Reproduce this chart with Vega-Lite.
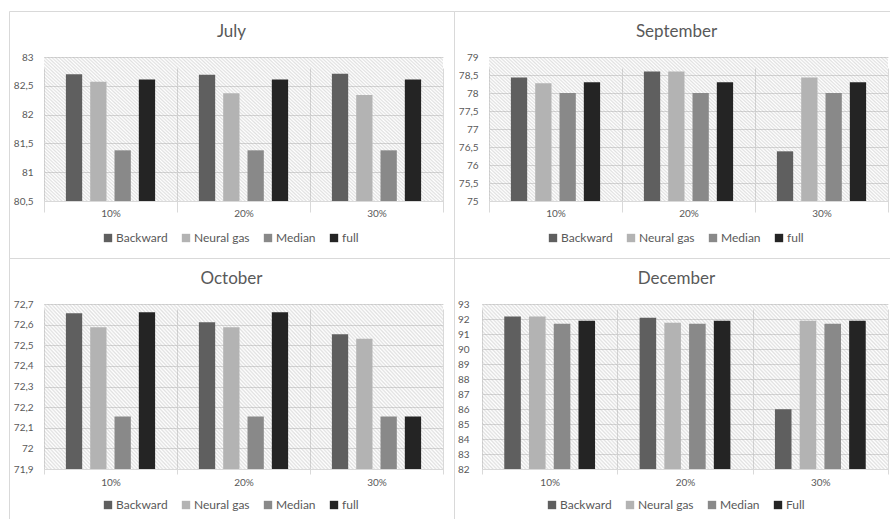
{
  "$schema": "https://vega.github.io/schema/vega-lite/v6.json",
  "background": "white",
  "padding": {"left": 8, "top": 10, "right": 0, "bottom": 0},
  "config": {
    "view": {"stroke": "#d9d9d9", "strokeWidth": 1},
    "font": "Lato",
    "axis": {"labelFont": "Lato", "labelFontSize": 10, "labelColor": "#595959", "gridColor": "#d9d9d9", "gridWidth": 1, "domain": false, "ticks": false, "labelOverlap": false},
    "title": {"font": "Lato", "fontSize": 17, "fontWeight": "normal", "color": "#595959"},
    "legend": {"symbolType": "square", "symbolSize": 70, "symbolStrokeWidth": 0, "labelFont": "Lato", "labelFontSize": 12, "labelColor": "#595959", "columnPadding": 12, "labelOffset": 2, "padding": 0},
    "mark": {
      "color": {
        "gradient": "linear", "x1": 0, "y1": 1, "x2": 0.921, "y2": -0.068,
        "stops": [
          {"offset": 0, "color": "rgba(160,160,160,0.32)"}, {"offset": 0.00625, "color": "rgba(160,160,160,0)"},
          {"offset": 0.0125, "color": "rgba(160,160,160,0.32)"}, {"offset": 0.01875, "color": "rgba(160,160,160,0)"},
          {"offset": 0.025, "color": "rgba(160,160,160,0.32)"}, {"offset": 0.03125, "color": "rgba(160,160,160,0)"},
          {"offset": 0.0375, "color": "rgba(160,160,160,0.32)"}, {"offset": 0.04375, "color": "rgba(160,160,160,0)"},
          {"offset": 0.05, "color": "rgba(160,160,160,0.32)"}, {"offset": 0.05625, "color": "rgba(160,160,160,0)"},
          {"offset": 0.0625, "color": "rgba(160,160,160,0.32)"}, {"offset": 0.06875, "color": "rgba(160,160,160,0)"},
          {"offset": 0.075, "color": "rgba(160,160,160,0.32)"}, {"offset": 0.08125, "color": "rgba(160,160,160,0)"},
          {"offset": 0.0875, "color": "rgba(160,160,160,0.32)"}, {"offset": 0.09375, "color": "rgba(160,160,160,0)"},
          {"offset": 0.1, "color": "rgba(160,160,160,0.32)"}, {"offset": 0.10625, "color": "rgba(160,160,160,0)"},
          {"offset": 0.1125, "color": "rgba(160,160,160,0.32)"}, {"offset": 0.11875, "color": "rgba(160,160,160,0)"},
          {"offset": 0.125, "color": "rgba(160,160,160,0.32)"}, {"offset": 0.13125, "color": "rgba(160,160,160,0)"},
          {"offset": 0.1375, "color": "rgba(160,160,160,0.32)"}, {"offset": 0.14375, "color": "rgba(160,160,160,0)"},
          {"offset": 0.15, "color": "rgba(160,160,160,0.32)"}, {"offset": 0.15625, "color": "rgba(160,160,160,0)"},
          {"offset": 0.1625, "color": "rgba(160,160,160,0.32)"}, {"offset": 0.16875, "color": "rgba(160,160,160,0)"},
          {"offset": 0.175, "color": "rgba(160,160,160,0.32)"}, {"offset": 0.18125, "color": "rgba(160,160,160,0)"},
          {"offset": 0.1875, "color": "rgba(160,160,160,0.32)"}, {"offset": 0.19375, "color": "rgba(160,160,160,0)"},
          {"offset": 0.2, "color": "rgba(160,160,160,0.32)"}, {"offset": 0.20625, "color": "rgba(160,160,160,0)"},
          {"offset": 0.2125, "color": "rgba(160,160,160,0.32)"}, {"offset": 0.21875, "color": "rgba(160,160,160,0)"},
          {"offset": 0.225, "color": "rgba(160,160,160,0.32)"}, {"offset": 0.23125, "color": "rgba(160,160,160,0)"},
          {"offset": 0.2375, "color": "rgba(160,160,160,0.32)"}, {"offset": 0.24375, "color": "rgba(160,160,160,0)"},
          {"offset": 0.25, "color": "rgba(160,160,160,0.32)"}, {"offset": 0.25625, "color": "rgba(160,160,160,0)"},
          {"offset": 0.2625, "color": "rgba(160,160,160,0.32)"}, {"offset": 0.26875, "color": "rgba(160,160,160,0)"},
          {"offset": 0.275, "color": "rgba(160,160,160,0.32)"}, {"offset": 0.28125, "color": "rgba(160,160,160,0)"},
          {"offset": 0.2875, "color": "rgba(160,160,160,0.32)"}, {"offset": 0.29375, "color": "rgba(160,160,160,0)"},
          {"offset": 0.3, "color": "rgba(160,160,160,0.32)"}, {"offset": 0.30625, "color": "rgba(160,160,160,0)"},
          {"offset": 0.3125, "color": "rgba(160,160,160,0.32)"}, {"offset": 0.31875, "color": "rgba(160,160,160,0)"},
          {"offset": 0.325, "color": "rgba(160,160,160,0.32)"}, {"offset": 0.33125, "color": "rgba(160,160,160,0)"},
          {"offset": 0.3375, "color": "rgba(160,160,160,0.32)"}, {"offset": 0.34375, "color": "rgba(160,160,160,0)"},
          {"offset": 0.35, "color": "rgba(160,160,160,0.32)"}, {"offset": 0.35625, "color": "rgba(160,160,160,0)"},
          {"offset": 0.3625, "color": "rgba(160,160,160,0.32)"}, {"offset": 0.36875, "color": "rgba(160,160,160,0)"},
          {"offset": 0.375, "color": "rgba(160,160,160,0.32)"}, {"offset": 0.38125, "color": "rgba(160,160,160,0)"},
          {"offset": 0.3875, "color": "rgba(160,160,160,0.32)"}, {"offset": 0.39375, "color": "rgba(160,160,160,0)"},
          {"offset": 0.4, "color": "rgba(160,160,160,0.32)"}, {"offset": 0.40625, "color": "rgba(160,160,160,0)"},
          {"offset": 0.4125, "color": "rgba(160,160,160,0.32)"}, {"offset": 0.41875, "color": "rgba(160,160,160,0)"},
          {"offset": 0.425, "color": "rgba(160,160,160,0.32)"}, {"offset": 0.43125, "color": "rgba(160,160,160,0)"},
          {"offset": 0.4375, "color": "rgba(160,160,160,0.32)"}, {"offset": 0.44375, "color": "rgba(160,160,160,0)"},
          {"offset": 0.45, "color": "rgba(160,160,160,0.32)"}, {"offset": 0.45625, "color": "rgba(160,160,160,0)"},
          {"offset": 0.4625, "color": "rgba(160,160,160,0.32)"}, {"offset": 0.46875, "color": "rgba(160,160,160,0)"},
          {"offset": 0.475, "color": "rgba(160,160,160,0.32)"}, {"offset": 0.48125, "color": "rgba(160,160,160,0)"},
          {"offset": 0.4875, "color": "rgba(160,160,160,0.32)"}, {"offset": 0.49375, "color": "rgba(160,160,160,0)"},
          {"offset": 0.5, "color": "rgba(160,160,160,0.32)"}, {"offset": 0.50625, "color": "rgba(160,160,160,0)"},
          {"offset": 0.5125, "color": "rgba(160,160,160,0.32)"}, {"offset": 0.51875, "color": "rgba(160,160,160,0)"},
          {"offset": 0.525, "color": "rgba(160,160,160,0.32)"}, {"offset": 0.53125, "color": "rgba(160,160,160,0)"},
          {"offset": 0.5375, "color": "rgba(160,160,160,0.32)"}, {"offset": 0.54375, "color": "rgba(160,160,160,0)"},
          {"offset": 0.55, "color": "rgba(160,160,160,0.32)"}, {"offset": 0.55625, "color": "rgba(160,160,160,0)"},
          {"offset": 0.5625, "color": "rgba(160,160,160,0.32)"}, {"offset": 0.56875, "color": "rgba(160,160,160,0)"},
          {"offset": 0.575, "color": "rgba(160,160,160,0.32)"}, {"offset": 0.58125, "color": "rgba(160,160,160,0)"},
          {"offset": 0.5875, "color": "rgba(160,160,160,0.32)"}, {"offset": 0.59375, "color": "rgba(160,160,160,0)"},
          {"offset": 0.6, "color": "rgba(160,160,160,0.32)"}, {"offset": 0.60625, "color": "rgba(160,160,160,0)"},
          {"offset": 0.6125, "color": "rgba(160,160,160,0.32)"}, {"offset": 0.61875, "color": "rgba(160,160,160,0)"},
          {"offset": 0.625, "color": "rgba(160,160,160,0.32)"}, {"offset": 0.63125, "color": "rgba(160,160,160,0)"},
          {"offset": 0.6375, "color": "rgba(160,160,160,0.32)"}, {"offset": 0.64375, "color": "rgba(160,160,160,0)"},
          {"offset": 0.65, "color": "rgba(160,160,160,0.32)"}, {"offset": 0.65625, "color": "rgba(160,160,160,0)"},
          {"offset": 0.6625, "color": "rgba(160,160,160,0.32)"}, {"offset": 0.66875, "color": "rgba(160,160,160,0)"},
          {"offset": 0.675, "color": "rgba(160,160,160,0.32)"}, {"offset": 0.68125, "color": "rgba(160,160,160,0)"},
          {"offset": 0.6875, "color": "rgba(160,160,160,0.32)"}, {"offset": 0.69375, "color": "rgba(160,160,160,0)"},
          {"offset": 0.7, "color": "rgba(160,160,160,0.32)"}, {"offset": 0.70625, "color": "rgba(160,160,160,0)"},
          {"offset": 0.7125, "color": "rgba(160,160,160,0.32)"}, {"offset": 0.71875, "color": "rgba(160,160,160,0)"},
          {"offset": 0.725, "color": "rgba(160,160,160,0.32)"}, {"offset": 0.73125, "color": "rgba(160,160,160,0)"},
          {"offset": 0.7375, "color": "rgba(160,160,160,0.32)"}, {"offset": 0.74375, "color": "rgba(160,160,160,0)"},
          {"offset": 0.75, "color": "rgba(160,160,160,0.32)"}, {"offset": 0.75625, "color": "rgba(160,160,160,0)"},
          {"offset": 0.7625, "color": "rgba(160,160,160,0.32)"}, {"offset": 0.76875, "color": "rgba(160,160,160,0)"},
          {"offset": 0.775, "color": "rgba(160,160,160,0.32)"}, {"offset": 0.78125, "color": "rgba(160,160,160,0)"},
          {"offset": 0.7875, "color": "rgba(160,160,160,0.32)"}, {"offset": 0.79375, "color": "rgba(160,160,160,0)"},
          {"offset": 0.8, "color": "rgba(160,160,160,0.32)"}, {"offset": 0.80625, "color": "rgba(160,160,160,0)"},
          {"offset": 0.8125, "color": "rgba(160,160,160,0.32)"}, {"offset": 0.81875, "color": "rgba(160,160,160,0)"},
          {"offset": 0.825, "color": "rgba(160,160,160,0.32)"}, {"offset": 0.83125, "color": "rgba(160,160,160,0)"},
          {"offset": 0.8375, "color": "rgba(160,160,160,0.32)"}, {"offset": 0.84375, "color": "rgba(160,160,160,0)"},
          {"offset": 0.85, "color": "rgba(160,160,160,0.32)"}, {"offset": 0.85625, "color": "rgba(160,160,160,0)"},
          {"offset": 0.8625, "color": "rgba(160,160,160,0.32)"}, {"offset": 0.86875, "color": "rgba(160,160,160,0)"},
          {"offset": 0.875, "color": "rgba(160,160,160,0.32)"}, {"offset": 0.88125, "color": "rgba(160,160,160,0)"},
          {"offset": 0.8875, "color": "rgba(160,160,160,0.32)"}, {"offset": 0.89375, "color": "rgba(160,160,160,0)"},
          {"offset": 0.9, "color": "rgba(160,160,160,0.32)"}, {"offset": 0.90625, "color": "rgba(160,160,160,0)"},
          {"offset": 0.9125, "color": "rgba(160,160,160,0.32)"}, {"offset": 0.91875, "color": "rgba(160,160,160,0)"},
          {"offset": 0.925, "color": "rgba(160,160,160,0.32)"}, {"offset": 0.93125, "color": "rgba(160,160,160,0)"},
          {"offset": 0.9375, "color": "rgba(160,160,160,0.32)"}, {"offset": 0.94375, "color": "rgba(160,160,160,0)"},
          {"offset": 0.95, "color": "rgba(160,160,160,0.32)"}, {"offset": 0.95625, "color": "rgba(160,160,160,0)"},
          {"offset": 0.9625, "color": "rgba(160,160,160,0.32)"}, {"offset": 0.96875, "color": "rgba(160,160,160,0)"},
          {"offset": 0.975, "color": "rgba(160,160,160,0.32)"}, {"offset": 0.98125, "color": "rgba(160,160,160,0)"},
          {"offset": 0.9875, "color": "rgba(160,160,160,0.32)"}, {"offset": 0.99375, "color": "rgba(160,160,160,0)"},
          {"offset": 1, "color": "rgba(160,160,160,0.32)"}
        ]
      }
    }
  },
  "data": {
    "values": [
      {"month": "July", "pct": "10%", "method": "Backward", "value": 82.70},
      {"month": "July", "pct": "10%", "method": "Neural gas", "value": 82.57},
      {"month": "July", "pct": "10%", "method": "Median", "value": 81.38},
      {"month": "July", "pct": "10%", "method": "full", "value": 82.61},
      {"month": "July", "pct": "20%", "method": "Backward", "value": 82.69},
      {"month": "July", "pct": "20%", "method": "Neural gas", "value": 82.37},
      {"month": "July", "pct": "20%", "method": "Median", "value": 81.38},
      {"month": "July", "pct": "20%", "method": "full", "value": 82.61},
      {"month": "July", "pct": "30%", "method": "Backward", "value": 82.71},
      {"month": "July", "pct": "30%", "method": "Neural gas", "value": 82.34},
      {"month": "July", "pct": "30%", "method": "Median", "value": 81.38},
      {"month": "July", "pct": "30%", "method": "full", "value": 82.61},
      {"month": "September", "pct": "10%", "method": "Backward", "value": 78.43},
      {"month": "September", "pct": "10%", "method": "Neural gas", "value": 78.27},
      {"month": "September", "pct": "10%", "method": "Median", "value": 78.0},
      {"month": "September", "pct": "10%", "method": "full", "value": 78.30},
      {"month": "September", "pct": "20%", "method": "Backward", "value": 78.6},
      {"month": "September", "pct": "20%", "method": "Neural gas", "value": 78.6},
      {"month": "September", "pct": "20%", "method": "Median", "value": 78.0},
      {"month": "September", "pct": "20%", "method": "full", "value": 78.30},
      {"month": "September", "pct": "30%", "method": "Backward", "value": 76.38},
      {"month": "September", "pct": "30%", "method": "Neural gas", "value": 78.43},
      {"month": "September", "pct": "30%", "method": "Median", "value": 78.0},
      {"month": "September", "pct": "30%", "method": "full", "value": 78.30},
      {"month": "October", "pct": "10%", "method": "Backward", "value": 72.655},
      {"month": "October", "pct": "10%", "method": "Neural gas", "value": 72.587},
      {"month": "October", "pct": "10%", "method": "Median", "value": 72.155},
      {"month": "October", "pct": "10%", "method": "full", "value": 72.66},
      {"month": "October", "pct": "20%", "method": "Backward", "value": 72.611},
      {"month": "October", "pct": "20%", "method": "Neural gas", "value": 72.587},
      {"month": "October", "pct": "20%", "method": "Median", "value": 72.155},
      {"month": "October", "pct": "20%", "method": "full", "value": 72.66},
      {"month": "October", "pct": "30%", "method": "Backward", "value": 72.553},
      {"month": "October", "pct": "30%", "method": "Neural gas", "value": 72.531},
      {"month": "October", "pct": "30%", "method": "Median", "value": 72.155},
      {"month": "October", "pct": "30%", "method": "full", "value": 72.155},
      {"month": "December", "pct": "10%", "method": "Backward", "value": 92.16},
      {"month": "December", "pct": "10%", "method": "Neural gas", "value": 92.16},
      {"month": "December", "pct": "10%", "method": "Median", "value": 91.68},
      {"month": "December", "pct": "10%", "method": "Full", "value": 91.89},
      {"month": "December", "pct": "20%", "method": "Backward", "value": 92.09},
      {"month": "December", "pct": "20%", "method": "Neural gas", "value": 91.75},
      {"month": "December", "pct": "20%", "method": "Median", "value": 91.68},
      {"month": "December", "pct": "20%", "method": "Full", "value": 91.89},
      {"month": "December", "pct": "30%", "method": "Backward", "value": 85.98},
      {"month": "December", "pct": "30%", "method": "Neural gas", "value": 91.89},
      {"month": "December", "pct": "30%", "method": "Median", "value": 91.68},
      {"month": "December", "pct": "30%", "method": "Full", "value": 91.89}
    ]
  },
  "columns": 2,
  "spacing": 0,
  "bounds": "flush",
  "resolve": {
    "scale": {"x": "independent", "y": "independent", "xOffset": "independent", "color": "independent"},
    "axis": {"x": "independent", "y": "independent"},
    "legend": {"color": "independent"}
  },
  "concat": [
    {
      "width": 445, "height": 247,
      "title": {"text": "July", "offset": -30},
      "transform": [{"filter": "datum.month === 'July'"}],
      "layer": [
        {
          "transform": [{"aggregate": [{"op": "count", "as": "n"}], "groupby": ["pct"]}],
          "mark": {"type": "bar"},
          "encoding": {
            "x": {"field": "pct", "type": "nominal", "title": null,
                  "scale": {"range": [35, 434], "paddingInner": 0, "paddingOuter": 0},
                  "axis": {"grid": true, "tickBand": "extent", "labelAngle": 0, "labelPadding": 7, "offset": -57, "labelColor": "#595959"}},
            "y": {"datum": 83, "type": "quantitative", "title": null,
                  "scale": {"domain": [80.5, 83], "range": [190, 46], "zero": false, "nice": false},
                  "axis": {"grid": true, "labelOverlap": false, "values": [80.5, 81, 81.5, 82, 82.5, 83], "format": "~g", "labelExpr": "replace(datum.label, '.', ',')", "offset": -35, "labelPadding": 11}},
            "y2": {"datum": 80.5}
          }
        },
        {
          "mark": {"type": "bar"},
          "encoding": {
            "x": {"field": "pct", "type": "nominal", "title": null,
                  "scale": {"range": [35, 434], "paddingInner": 0, "paddingOuter": 0},
                  "axis": {"grid": true, "tickBand": "extent", "labelAngle": 0, "labelPadding": 7, "offset": -57, "labelColor": "#595959"}},
            "xOffset": {"field": "method", "type": "nominal",
                        "scale": {"domain": ["Backward", "Neural gas", "Median", "full"], "paddingInner": 0.33, "paddingOuter": 0.9}},
            "y": {"field": "value", "type": "quantitative", "title": null,
                  "scale": {"domain": [80.5, 83], "range": [190, 46], "zero": false, "nice": false},
                  "axis": {"grid": true, "labelOverlap": false, "values": [80.5, 81, 81.5, 82, 82.5, 83], "format": "~g", "labelExpr": "replace(datum.label, '.', ',')", "offset": -35, "labelPadding": 11}},
            "y2": {"datum": 80.5},
            "color": {"field": "method", "type": "nominal",
                      "scale": {"domain": ["Backward", "Neural gas", "Median", "full"], "range": ["#5f5f5f", "#b3b3b3", "#898989", "#242424"]},
                      "legend": {"title": null, "orient": "none", "direction": "horizontal", "legendX": 93, "legendY": 221}}
          }
        }
      ]
    },
    {
      "width": 445, "height": 247,
      "title": {"text": "September", "offset": -30},
      "transform": [{"filter": "datum.month === 'September'"}],
      "layer": [
        {
          "transform": [{"aggregate": [{"op": "count", "as": "n"}], "groupby": ["pct"]}],
          "mark": {"type": "bar"},
          "encoding": {
            "x": {"field": "pct", "type": "nominal", "title": null,
                  "scale": {"range": [35, 434], "paddingInner": 0, "paddingOuter": 0},
                  "axis": {"grid": true, "tickBand": "extent", "labelAngle": 0, "labelPadding": 7, "offset": -57, "labelColor": "#595959"}},
            "y": {"datum": 79, "type": "quantitative", "title": null,
                  "scale": {"domain": [75, 79], "range": [190, 46], "zero": false, "nice": false},
                  "axis": {"grid": true, "labelOverlap": false, "values": [75, 75.5, 76, 76.5, 77, 77.5, 78, 78.5, 79], "format": "~g", "labelExpr": "replace(datum.label, '.', ',')", "offset": -35, "labelPadding": 11}},
            "y2": {"datum": 75}
          }
        },
        {
          "mark": {"type": "bar"},
          "encoding": {
            "x": {"field": "pct", "type": "nominal", "title": null,
                  "scale": {"range": [35, 434], "paddingInner": 0, "paddingOuter": 0},
                  "axis": {"grid": true, "tickBand": "extent", "labelAngle": 0, "labelPadding": 7, "offset": -57, "labelColor": "#595959"}},
            "xOffset": {"field": "method", "type": "nominal",
                        "scale": {"domain": ["Backward", "Neural gas", "Median", "full"], "paddingInner": 0.33, "paddingOuter": 0.9}},
            "y": {"field": "value", "type": "quantitative", "title": null,
                  "scale": {"domain": [75, 79], "range": [190, 46], "zero": false, "nice": false},
                  "axis": {"grid": true, "labelOverlap": false, "values": [75, 75.5, 76, 76.5, 77, 77.5, 78, 78.5, 79], "format": "~g", "labelExpr": "replace(datum.label, '.', ',')", "offset": -35, "labelPadding": 11}},
            "y2": {"datum": 75},
            "color": {"field": "method", "type": "nominal",
                      "scale": {"domain": ["Backward", "Neural gas", "Median", "full"], "range": ["#5f5f5f", "#b3b3b3", "#898989", "#242424"]},
                      "legend": {"title": null, "orient": "none", "direction": "horizontal", "legendX": 93, "legendY": 221}}
          }
        }
      ]
    },
    {
      "width": 445, "height": 262,
      "title": {"text": "October", "offset": -30},
      "transform": [{"filter": "datum.month === 'October'"}],
      "layer": [
        {
          "transform": [{"aggregate": [{"op": "count", "as": "n"}], "groupby": ["pct"]}],
          "mark": {"type": "bar"},
          "encoding": {
            "x": {"field": "pct", "type": "nominal", "title": null,
                  "scale": {"range": [35, 434], "paddingInner": 0, "paddingOuter": 0},
                  "axis": {"grid": true, "tickBand": "extent", "labelAngle": 0, "labelPadding": 8, "offset": -51, "labelColor": "#595959"}},
            "y": {"datum": 72.7, "type": "quantitative", "title": null,
                  "scale": {"domain": [71.9, 72.7], "range": [211, 46], "zero": false, "nice": false},
                  "axis": {"grid": true, "labelOverlap": false, "values": [71.9, 72, 72.1, 72.2, 72.3, 72.4, 72.5, 72.6, 72.7], "format": "~g", "labelExpr": "replace(datum.label, '.', ',')", "offset": -35, "labelPadding": 11}},
            "y2": {"datum": 71.9}
          }
        },
        {
          "mark": {"type": "bar"},
          "encoding": {
            "x": {"field": "pct", "type": "nominal", "title": null,
                  "scale": {"range": [35, 434], "paddingInner": 0, "paddingOuter": 0},
                  "axis": {"grid": true, "tickBand": "extent", "labelAngle": 0, "labelPadding": 8, "offset": -51, "labelColor": "#595959"}},
            "xOffset": {"field": "method", "type": "nominal",
                        "scale": {"domain": ["Backward", "Neural gas", "Median", "full"], "paddingInner": 0.33, "paddingOuter": 0.9}},
            "y": {"field": "value", "type": "quantitative", "title": null,
                  "scale": {"domain": [71.9, 72.7], "range": [211, 46], "zero": false, "nice": false},
                  "axis": {"grid": true, "labelOverlap": false, "values": [71.9, 72, 72.1, 72.2, 72.3, 72.4, 72.5, 72.6, 72.7], "format": "~g", "labelExpr": "replace(datum.label, '.', ',')", "offset": -35, "labelPadding": 11}},
            "y2": {"datum": 71.9},
            "color": {"field": "method", "type": "nominal",
                      "scale": {"domain": ["Backward", "Neural gas", "Median", "full"], "range": ["#5f5f5f", "#b3b3b3", "#898989", "#242424"]},
                      "legend": {"title": null, "orient": "none", "direction": "horizontal", "legendX": 93, "legendY": 241}}
          }
        }
      ]
    },
    {
      "width": 445, "height": 262,
      "title": {"text": "December", "offset": -30},
      "transform": [{"filter": "datum.month === 'December'"}],
      "layer": [
        {
          "transform": [{"aggregate": [{"op": "count", "as": "n"}], "groupby": ["pct"]}],
          "mark": {"type": "bar"},
          "encoding": {
            "x": {"field": "pct", "type": "nominal", "title": null,
                  "scale": {"range": [28, 434], "paddingInner": 0, "paddingOuter": 0},
                  "axis": {"grid": true, "tickBand": "extent", "labelAngle": 0, "labelPadding": 8, "offset": -51, "labelColor": "#595959"}},
            "y": {"datum": 93, "type": "quantitative", "title": null,
                  "scale": {"domain": [82, 93], "range": [211, 46], "zero": false, "nice": false},
                  "axis": {"grid": true, "labelOverlap": false, "values": [82, 83, 84, 85, 86, 87, 88, 89, 90, 91, 92, 93], "format": "~g", "labelExpr": "replace(datum.label, '.', ',')", "offset": -28, "labelPadding": 13}},
            "y2": {"datum": 82}
          }
        },
        {
          "mark": {"type": "bar"},
          "encoding": {
            "x": {"field": "pct", "type": "nominal", "title": null,
                  "scale": {"range": [28, 434], "paddingInner": 0, "paddingOuter": 0},
                  "axis": {"grid": true, "tickBand": "extent", "labelAngle": 0, "labelPadding": 8, "offset": -51, "labelColor": "#595959"}},
            "xOffset": {"field": "method", "type": "nominal",
                        "scale": {"domain": ["Backward", "Neural gas", "Median", "Full"], "paddingInner": 0.33, "paddingOuter": 0.9}},
            "y": {"field": "value", "type": "quantitative", "title": null,
                  "scale": {"domain": [82, 93], "range": [211, 46], "zero": false, "nice": false},
                  "axis": {"grid": true, "labelOverlap": false, "values": [82, 83, 84, 85, 86, 87, 88, 89, 90, 91, 92, 93], "format": "~g", "labelExpr": "replace(datum.label, '.', ',')", "offset": -28, "labelPadding": 13}},
            "y2": {"datum": 82},
            "color": {"field": "method", "type": "nominal",
                      "scale": {"domain": ["Backward", "Neural gas", "Median", "Full"], "range": ["#5f5f5f", "#b3b3b3", "#898989", "#242424"]},
                      "legend": {"title": null, "orient": "none", "direction": "horizontal", "legendX": 92, "legendY": 241}}
          }
        }
      ]
    }
  ]
}
